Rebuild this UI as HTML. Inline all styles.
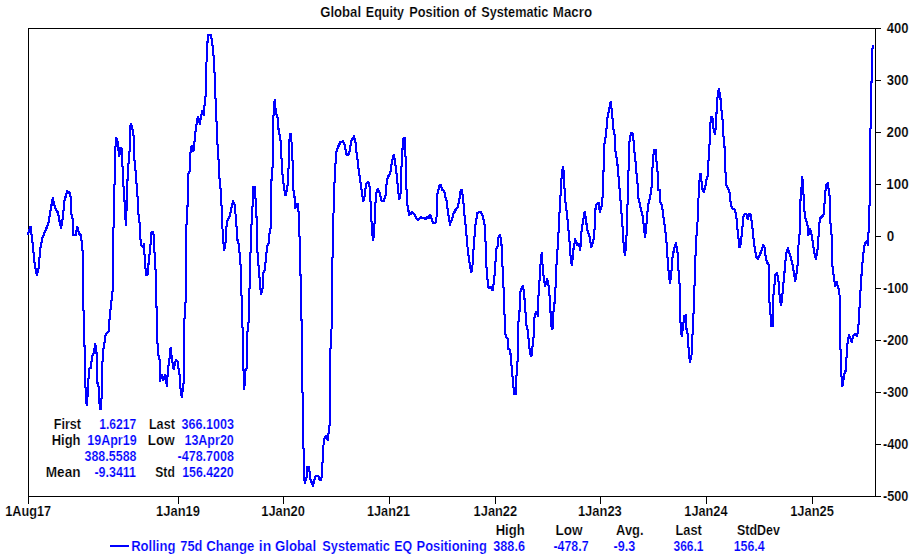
<!DOCTYPE html><html><head><meta charset="utf-8"><title>Chart</title><style>html,body{margin:0;padding:0;background:#fff;}svg{display:block}text{font-family:"Liberation Sans",sans-serif;font-weight:bold;}</style></head><body>
<svg width="913" height="555" viewBox="0 0 913 555">
<rect width="913" height="555" fill="#fff"/>
<g shape-rendering="crispEdges" stroke="#000" stroke-width="1" fill="none">
<rect x="28.5" y="28.5" width="847" height="468"/>
<line x1="876" y1="28.5" x2="881" y2="28.5"/>
<line x1="876" y1="80.5" x2="881" y2="80.5"/>
<line x1="876" y1="132.5" x2="881" y2="132.5"/>
<line x1="876" y1="184.5" x2="881" y2="184.5"/>
<line x1="876" y1="236.5" x2="881" y2="236.5"/>
<line x1="876" y1="288.5" x2="881" y2="288.5"/>
<line x1="876" y1="340.5" x2="881" y2="340.5"/>
<line x1="876" y1="392.5" x2="881" y2="392.5"/>
<line x1="876" y1="444.5" x2="881" y2="444.5"/>
<line x1="876" y1="496.5" x2="881" y2="496.5"/>
<line x1="28.5" y1="497" x2="28.5" y2="504"/>
<line x1="178.5" y1="497" x2="178.5" y2="504"/>
<line x1="283.5" y1="497" x2="283.5" y2="504"/>
<line x1="389.5" y1="497" x2="389.5" y2="504"/>
<line x1="495.5" y1="497" x2="495.5" y2="504"/>
<line x1="600.5" y1="497" x2="600.5" y2="504"/>
<line x1="706.5" y1="497" x2="706.5" y2="504"/>
<line x1="812.5" y1="497" x2="812.5" y2="504"/>
</g>
<polyline transform="translate(-0.5,-0.5)" points="28.0,234.4 30.5,226.4 32.5,242.7 34.5,262.8 36.8,275.3 38.8,267.8 40.0,250.0 42.5,237.7 45.0,231.4 48.3,224.0 50.6,210.0 52.8,198.0 55.0,207.6 58.0,213.0 59.6,221.4 61.0,228.0 62.6,219.0 64.6,200.0 67.2,191.3 69.4,192.6 70.9,197.6 71.6,217.0 72.6,219.0 73.4,235.0 75.6,234.7 77.4,227.0 79.0,234.0 81.0,235.0 82.0,246.5 83.0,255.0 83.2,295.0 83.5,310.0 84.7,352.6 85.7,395.0 86.7,405.3 87.7,395.0 89.0,369.0 90.7,367.7 92.2,356.4 94.2,351.4 95.0,344.0 96.4,349.0 97.4,382.7 99.0,387.7 99.7,409.0 101.0,409.0 102.0,387.7 102.7,352.6 104.5,342.6 105.7,333.8 108.5,332.0 109.7,317.6 111.2,302.5 112.2,295.0 112.7,290.0 113.2,242.7 114.2,196.0 115.2,160.0 115.3,150.0 116.0,137.8 117.2,139.0 118.2,148.0 119.2,156.6 120.3,148.0 121.5,149.0 122.3,161.6 123.3,183.8 124.8,205.0 125.8,225.7 126.8,205.0 127.8,170.0 128.5,164.0 129.6,150.0 130.3,127.0 131.0,123.5 132.8,131.0 134.2,140.0 134.4,160.0 135.0,163.0 135.8,175.0 137.3,192.6 138.3,212.6 139.8,225.0 140.8,245.0 142.8,246.5 143.8,245.0 144.8,257.7 146.0,275.3 147.8,274.0 148.8,260.0 150.3,247.7 151.3,232.7 152.8,232.0 153.8,235.0 154.8,260.0 156.0,275.3 156.4,299.0 156.6,312.5 157.8,352.6 159.6,360.0 159.8,381.5 161.6,375.0 163.4,380.0 165.4,374.7 166.9,386.5 167.9,370.0 169.4,360.0 170.6,347.6 171.9,359.0 173.6,369.0 175.9,360.0 177.6,361.4 179.0,372.0 180.2,378.0 180.4,388.0 181.7,397.0 182.4,392.0 183.2,385.0 184.0,380.0 184.2,322.6 185.4,307.5 185.6,299.0 185.9,231.4 187.4,215.0 187.9,175.0 189.9,171.0 190.4,152.8 191.7,145.3 193.4,151.6 194.4,142.8 195.4,132.8 196.7,122.7 197.9,116.5 199.9,124.0 200.9,116.5 202.2,111.5 203.7,115.2 204.5,105.2 205.5,97.7 206.0,75.0 207.0,50.0 208.0,34.5 210.5,34.5 212.0,40.0 213.0,50.0 214.2,62.6 215.0,87.7 216.0,107.7 217.2,140.3 218.7,162.0 219.7,182.6 221.0,192.6 222.0,217.6 223.0,240.0 224.3,250.0 225.5,242.7 226.8,221.4 229.3,217.6 231.0,210.0 233.0,201.4 234.8,205.0 236.0,220.0 237.5,240.0 239.0,245.0 240.0,260.0 241.0,267.8 241.5,295.0 242.0,320.0 243.0,335.0 243.5,370.0 244.3,389.0 245.5,370.0 246.8,367.7 247.5,331.3 248.8,320.0 249.1,299.0 250.0,275.3 250.8,240.0 252.2,210.0 253.2,200.0 253.2,187.0 254.8,187.0 255.0,198.0 256.0,199.0 256.2,216.0 256.8,218.0 257.0,245.0 258.3,262.8 259.5,277.8 261.0,294.5 262.6,287.8 263.3,272.8 264.6,270.3 265.8,260.3 267.0,246.5 268.8,242.7 269.6,232.7 270.8,227.7 271.3,182.6 272.6,166.0 273.0,132.8 273.8,105.2 274.8,99.4 275.8,112.7 277.6,117.7 278.3,127.8 279.6,135.3 280.9,142.8 281.6,161.0 282.2,172.0 283.2,181.0 284.2,189.0 285.5,195.6 287.2,189.0 288.2,178.0 288.4,170.0 289.0,162.0 289.4,140.3 290.6,133.5 291.6,142.8 292.1,156.6 292.8,164.0 293.1,187.6 294.6,197.6 295.1,207.6 297.6,203.9 298.4,208.9 299.1,222.7 300.2,260.3 300.9,292.0 301.9,337.6 302.6,400.3 303.3,440.5 304.2,472.0 304.6,483.2 306.0,479.2 306.9,475.6 307.5,466.6 308.7,467.0 309.6,472.0 310.5,479.2 311.8,482.8 312.9,485.0 314.1,482.0 315.0,477.4 316.5,475.6 318.3,476.0 319.3,479.2 320.4,480.7 321.5,478.3 322.0,466.6 322.9,459.4 323.7,440.5 324.9,437.8 326.2,436.0 327.6,440.0 328.2,434.2 329.4,432.0 330.0,400.0 330.2,355.0 331.5,330.0 332.2,295.0 332.4,262.8 333.2,226.4 334.0,192.6 335.2,170.0 336.0,152.8 337.7,147.8 340.3,142.3 342.8,141.5 344.8,145.3 346.3,154.0 348.3,155.3 349.8,150.3 351.0,141.5 354.0,136.5 355.8,144.0 356.8,155.3 357.8,161.6 359.0,172.5 361.6,190.0 363.3,201.4 364.8,195.0 366.0,183.8 368.3,181.8 369.8,187.6 370.8,207.6 372.1,232.7 373.3,240.2 374.8,220.0 375.8,195.0 377.8,188.8 379.6,192.6 381.6,200.9 383.4,201.4 385.4,196.3 386.9,180.0 388.4,176.3 390.4,172.5 391.6,163.8 392.4,160.3 393.6,154.8 394.9,160.3 396.4,172.5 397.9,187.6 399.1,198.8 400.4,197.6 401.2,170.0 402.2,158.0 402.4,150.3 403.4,139.0 404.9,137.8 405.4,155.3 405.9,162.0 406.7,197.6 407.4,205.0 409.2,214.6 410.5,214.2 412.4,212.3 414.2,214.0 416.7,218.9 418.4,220.0 419.5,218.5 420.8,216.8 422.0,218.3 424.0,218.5 426.0,218.6 427.0,217.0 428.5,218.8 429.5,216.0 430.5,215.2 431.2,217.5 432.0,219.5 433.0,222.7 435.5,222.7 436.5,217.6 437.0,195.5 439.2,186.3 440.5,185.0 442.5,190.0 444.3,191.3 445.5,197.6 446.8,201.4 448.0,212.6 450.0,223.9 451.8,220.0 453.5,213.9 455.5,210.0 457.5,207.6 459.3,200.0 460.6,191.3 461.6,189.8 463.0,197.6 464.5,215.0 466.3,232.7 468.0,252.7 470.0,265.3 471.3,272.8 472.5,265.3 473.8,245.0 475.5,225.0 477.5,213.0 480.6,211.4 483.0,216.4 484.6,225.0 485.6,242.7 486.3,265.3 487.6,280.3 488.6,288.3 490.6,286.6 492.6,290.3 493.8,282.8 495.0,270.3 496.3,249.0 497.6,246.5 498.6,236.4 500.0,235.2 501.4,242.7 502.6,267.8 503.4,285.0 504.1,298.8 504.6,317.6 505.6,336.4 507.6,338.9 508.4,349.0 510.1,349.7 511.1,360.2 512.1,372.7 513.1,382.8 514.1,394.0 515.9,394.0 516.6,372.7 517.6,360.2 518.4,322.6 519.6,310.0 520.2,292.5 521.7,287.5 523.2,286.3 524.2,295.0 525.2,307.6 526.4,325.0 527.7,330.0 528.9,342.7 530.2,354.0 531.4,356.4 532.7,345.2 533.9,333.9 534.4,317.6 535.9,312.6 537.7,315.0 538.2,300.0 539.2,287.0 540.2,267.8 541.7,252.2 542.7,267.8 544.0,280.3 545.2,286.0 547.2,279.0 548.5,285.0 549.5,295.0 550.7,315.0 551.7,328.9 552.7,327.6 553.7,307.6 554.7,302.0 555.7,284.0 556.7,260.3 558.2,240.2 559.2,217.6 560.3,200.0 561.3,180.0 562.8,166.8 564.0,172.5 564.8,197.6 566.5,210.0 568.3,227.7 569.8,245.2 570.8,260.3 572.0,265.3 573.3,250.2 575.3,239.7 577.3,245.2 579.0,244.0 580.3,250.2 581.3,232.7 582.8,222.7 584.8,211.4 586.0,220.0 587.3,230.0 589.3,235.2 591.3,246.5 592.8,242.7 594.3,235.2 595.3,210.0 596.6,203.9 598.6,203.0 599.8,212.0 601.1,207.6 602.4,203.0 602.9,180.0 603.9,165.3 604.6,140.2 606.1,135.2 607.1,120.0 608.9,110.0 610.6,101.9 612.1,112.6 613.1,127.7 614.6,135.2 615.6,152.7 617.1,160.3 618.4,175.3 619.4,187.6 620.9,205.0 622.4,225.0 623.7,245.2 624.9,255.2 626.2,245.2 626.9,222.7 627.7,199.0 628.2,187.8 628.7,160.3 629.7,137.7 631.4,133.2 633.2,134.0 633.9,147.7 635.2,157.7 636.4,172.8 637.7,185.3 638.4,197.6 640.5,207.6 642.5,215.0 643.7,225.0 645.0,237.7 646.0,230.0 647.0,217.6 648.0,205.0 650.0,197.6 651.5,187.8 652.2,172.8 653.2,157.7 654.0,150.2 656.2,149.7 656.7,167.8 657.7,172.8 658.5,190.0 659.7,190.3 660.5,202.6 662.0,205.0 663.5,217.6 665.0,227.7 666.5,242.7 668.0,265.3 669.3,277.8 670.0,283.8 671.3,272.8 672.5,257.7 674.3,247.7 676.0,244.0 677.5,252.7 678.5,270.3 679.8,287.0 680.3,310.0 680.6,328.0 681.8,336.4 683.0,326.4 684.3,316.3 685.8,315.0 686.5,329.0 688.0,335.2 688.8,354.0 690.0,362.2 691.5,355.2 692.5,335.2 693.5,313.9 694.5,286.0 695.0,267.8 696.3,237.7 697.5,222.7 698.3,202.6 699.0,187.6 700.0,174.0 701.0,174.5 702.0,187.6 703.6,192.0 705.2,188.0 706.4,180.0 707.4,177.8 708.4,162.8 709.4,147.7 710.1,127.7 710.9,117.1 712.4,117.1 713.4,127.7 714.9,134.7 715.9,126.4 717.1,100.0 718.9,88.3 720.4,97.6 721.7,112.6 722.9,122.7 723.7,140.2 724.9,150.2 725.4,170.3 726.2,185.3 728.3,188.3 729.8,194.0 730.9,205.0 732.6,208.9 734.6,209.6 736.1,213.9 737.1,225.2 738.4,237.7 739.6,247.7 740.9,242.7 742.2,230.2 743.2,217.6 744.7,213.9 746.4,213.9 747.7,218.9 749.2,213.9 750.7,214.6 752.2,225.2 753.4,237.7 754.7,247.7 756.2,256.5 757.7,259.0 759.7,255.2 761.5,250.2 763.2,245.2 764.7,247.7 765.7,257.7 767.2,262.8 768.5,264.0 769.0,280.0 769.2,300.0 770.2,307.6 771.0,325.6 772.7,325.6 773.2,297.6 774.4,286.0 775.4,274.5 777.1,272.8 778.4,280.2 779.4,294.0 780.8,305.0 782.0,301.3 783.0,287.0 784.2,276.0 785.3,262.0 786.5,252.7 787.8,248.5 789.3,252.7 790.8,257.7 792.3,262.8 793.8,272.8 795.3,281.0 796.5,274.0 797.8,262.8 798.8,237.7 799.8,232.7 800.3,202.6 801.3,190.0 802.3,177.0 803.3,190.0 804.3,210.0 805.8,220.0 807.3,222.7 808.3,235.2 809.8,229.0 811.3,232.7 812.8,242.7 814.3,252.7 815.8,258.5 817.3,252.7 818.6,235.2 819.8,218.9 821.6,217.1 823.6,214.6 824.6,202.6 825.9,185.0 827.9,183.0 828.9,192.6 829.9,197.6 830.4,222.7 831.6,235.2 832.4,265.3 833.9,278.0 835.4,286.0 837.0,283.0 837.9,288.0 839.3,289.5 839.9,305.0 840.4,345.2 840.9,365.2 841.7,380.3 842.4,386.5 843.7,377.8 844.9,371.5 846.2,370.3 846.7,350.2 847.9,340.2 849.2,335.7 850.9,338.9 851.9,342.7 852.9,336.4 854.9,333.9 856.9,335.7 857.9,331.4 858.9,320.0 859.9,300.0 860.9,285.0 861.7,272.0 862.5,262.8 863.7,250.2 865.0,242.7 866.7,241.5 868.0,244.0 868.5,232.7 869.5,206.4 870.2,185.0 870.3,129.0 871.4,125.0 871.5,82.6 872.2,50.0 873.2,46.0" fill="none" stroke="#0000ff" stroke-width="1" stroke-linejoin="miter" shape-rendering="crispEdges"/>
<polyline transform="translate(0.5,-0.5)" points="28.0,234.4 30.5,226.4 32.5,242.7 34.5,262.8 36.8,275.3 38.8,267.8 40.0,250.0 42.5,237.7 45.0,231.4 48.3,224.0 50.6,210.0 52.8,198.0 55.0,207.6 58.0,213.0 59.6,221.4 61.0,228.0 62.6,219.0 64.6,200.0 67.2,191.3 69.4,192.6 70.9,197.6 71.6,217.0 72.6,219.0 73.4,235.0 75.6,234.7 77.4,227.0 79.0,234.0 81.0,235.0 82.0,246.5 83.0,255.0 83.2,295.0 83.5,310.0 84.7,352.6 85.7,395.0 86.7,405.3 87.7,395.0 89.0,369.0 90.7,367.7 92.2,356.4 94.2,351.4 95.0,344.0 96.4,349.0 97.4,382.7 99.0,387.7 99.7,409.0 101.0,409.0 102.0,387.7 102.7,352.6 104.5,342.6 105.7,333.8 108.5,332.0 109.7,317.6 111.2,302.5 112.2,295.0 112.7,290.0 113.2,242.7 114.2,196.0 115.2,160.0 115.3,150.0 116.0,137.8 117.2,139.0 118.2,148.0 119.2,156.6 120.3,148.0 121.5,149.0 122.3,161.6 123.3,183.8 124.8,205.0 125.8,225.7 126.8,205.0 127.8,170.0 128.5,164.0 129.6,150.0 130.3,127.0 131.0,123.5 132.8,131.0 134.2,140.0 134.4,160.0 135.0,163.0 135.8,175.0 137.3,192.6 138.3,212.6 139.8,225.0 140.8,245.0 142.8,246.5 143.8,245.0 144.8,257.7 146.0,275.3 147.8,274.0 148.8,260.0 150.3,247.7 151.3,232.7 152.8,232.0 153.8,235.0 154.8,260.0 156.0,275.3 156.4,299.0 156.6,312.5 157.8,352.6 159.6,360.0 159.8,381.5 161.6,375.0 163.4,380.0 165.4,374.7 166.9,386.5 167.9,370.0 169.4,360.0 170.6,347.6 171.9,359.0 173.6,369.0 175.9,360.0 177.6,361.4 179.0,372.0 180.2,378.0 180.4,388.0 181.7,397.0 182.4,392.0 183.2,385.0 184.0,380.0 184.2,322.6 185.4,307.5 185.6,299.0 185.9,231.4 187.4,215.0 187.9,175.0 189.9,171.0 190.4,152.8 191.7,145.3 193.4,151.6 194.4,142.8 195.4,132.8 196.7,122.7 197.9,116.5 199.9,124.0 200.9,116.5 202.2,111.5 203.7,115.2 204.5,105.2 205.5,97.7 206.0,75.0 207.0,50.0 208.0,34.5 210.5,34.5 212.0,40.0 213.0,50.0 214.2,62.6 215.0,87.7 216.0,107.7 217.2,140.3 218.7,162.0 219.7,182.6 221.0,192.6 222.0,217.6 223.0,240.0 224.3,250.0 225.5,242.7 226.8,221.4 229.3,217.6 231.0,210.0 233.0,201.4 234.8,205.0 236.0,220.0 237.5,240.0 239.0,245.0 240.0,260.0 241.0,267.8 241.5,295.0 242.0,320.0 243.0,335.0 243.5,370.0 244.3,389.0 245.5,370.0 246.8,367.7 247.5,331.3 248.8,320.0 249.1,299.0 250.0,275.3 250.8,240.0 252.2,210.0 253.2,200.0 253.2,187.0 254.8,187.0 255.0,198.0 256.0,199.0 256.2,216.0 256.8,218.0 257.0,245.0 258.3,262.8 259.5,277.8 261.0,294.5 262.6,287.8 263.3,272.8 264.6,270.3 265.8,260.3 267.0,246.5 268.8,242.7 269.6,232.7 270.8,227.7 271.3,182.6 272.6,166.0 273.0,132.8 273.8,105.2 274.8,99.4 275.8,112.7 277.6,117.7 278.3,127.8 279.6,135.3 280.9,142.8 281.6,161.0 282.2,172.0 283.2,181.0 284.2,189.0 285.5,195.6 287.2,189.0 288.2,178.0 288.4,170.0 289.0,162.0 289.4,140.3 290.6,133.5 291.6,142.8 292.1,156.6 292.8,164.0 293.1,187.6 294.6,197.6 295.1,207.6 297.6,203.9 298.4,208.9 299.1,222.7 300.2,260.3 300.9,292.0 301.9,337.6 302.6,400.3 303.3,440.5 304.2,472.0 304.6,483.2 306.0,479.2 306.9,475.6 307.5,466.6 308.7,467.0 309.6,472.0 310.5,479.2 311.8,482.8 312.9,485.0 314.1,482.0 315.0,477.4 316.5,475.6 318.3,476.0 319.3,479.2 320.4,480.7 321.5,478.3 322.0,466.6 322.9,459.4 323.7,440.5 324.9,437.8 326.2,436.0 327.6,440.0 328.2,434.2 329.4,432.0 330.0,400.0 330.2,355.0 331.5,330.0 332.2,295.0 332.4,262.8 333.2,226.4 334.0,192.6 335.2,170.0 336.0,152.8 337.7,147.8 340.3,142.3 342.8,141.5 344.8,145.3 346.3,154.0 348.3,155.3 349.8,150.3 351.0,141.5 354.0,136.5 355.8,144.0 356.8,155.3 357.8,161.6 359.0,172.5 361.6,190.0 363.3,201.4 364.8,195.0 366.0,183.8 368.3,181.8 369.8,187.6 370.8,207.6 372.1,232.7 373.3,240.2 374.8,220.0 375.8,195.0 377.8,188.8 379.6,192.6 381.6,200.9 383.4,201.4 385.4,196.3 386.9,180.0 388.4,176.3 390.4,172.5 391.6,163.8 392.4,160.3 393.6,154.8 394.9,160.3 396.4,172.5 397.9,187.6 399.1,198.8 400.4,197.6 401.2,170.0 402.2,158.0 402.4,150.3 403.4,139.0 404.9,137.8 405.4,155.3 405.9,162.0 406.7,197.6 407.4,205.0 409.2,214.6 410.5,214.2 412.4,212.3 414.2,214.0 416.7,218.9 418.4,220.0 419.5,218.5 420.8,216.8 422.0,218.3 424.0,218.5 426.0,218.6 427.0,217.0 428.5,218.8 429.5,216.0 430.5,215.2 431.2,217.5 432.0,219.5 433.0,222.7 435.5,222.7 436.5,217.6 437.0,195.5 439.2,186.3 440.5,185.0 442.5,190.0 444.3,191.3 445.5,197.6 446.8,201.4 448.0,212.6 450.0,223.9 451.8,220.0 453.5,213.9 455.5,210.0 457.5,207.6 459.3,200.0 460.6,191.3 461.6,189.8 463.0,197.6 464.5,215.0 466.3,232.7 468.0,252.7 470.0,265.3 471.3,272.8 472.5,265.3 473.8,245.0 475.5,225.0 477.5,213.0 480.6,211.4 483.0,216.4 484.6,225.0 485.6,242.7 486.3,265.3 487.6,280.3 488.6,288.3 490.6,286.6 492.6,290.3 493.8,282.8 495.0,270.3 496.3,249.0 497.6,246.5 498.6,236.4 500.0,235.2 501.4,242.7 502.6,267.8 503.4,285.0 504.1,298.8 504.6,317.6 505.6,336.4 507.6,338.9 508.4,349.0 510.1,349.7 511.1,360.2 512.1,372.7 513.1,382.8 514.1,394.0 515.9,394.0 516.6,372.7 517.6,360.2 518.4,322.6 519.6,310.0 520.2,292.5 521.7,287.5 523.2,286.3 524.2,295.0 525.2,307.6 526.4,325.0 527.7,330.0 528.9,342.7 530.2,354.0 531.4,356.4 532.7,345.2 533.9,333.9 534.4,317.6 535.9,312.6 537.7,315.0 538.2,300.0 539.2,287.0 540.2,267.8 541.7,252.2 542.7,267.8 544.0,280.3 545.2,286.0 547.2,279.0 548.5,285.0 549.5,295.0 550.7,315.0 551.7,328.9 552.7,327.6 553.7,307.6 554.7,302.0 555.7,284.0 556.7,260.3 558.2,240.2 559.2,217.6 560.3,200.0 561.3,180.0 562.8,166.8 564.0,172.5 564.8,197.6 566.5,210.0 568.3,227.7 569.8,245.2 570.8,260.3 572.0,265.3 573.3,250.2 575.3,239.7 577.3,245.2 579.0,244.0 580.3,250.2 581.3,232.7 582.8,222.7 584.8,211.4 586.0,220.0 587.3,230.0 589.3,235.2 591.3,246.5 592.8,242.7 594.3,235.2 595.3,210.0 596.6,203.9 598.6,203.0 599.8,212.0 601.1,207.6 602.4,203.0 602.9,180.0 603.9,165.3 604.6,140.2 606.1,135.2 607.1,120.0 608.9,110.0 610.6,101.9 612.1,112.6 613.1,127.7 614.6,135.2 615.6,152.7 617.1,160.3 618.4,175.3 619.4,187.6 620.9,205.0 622.4,225.0 623.7,245.2 624.9,255.2 626.2,245.2 626.9,222.7 627.7,199.0 628.2,187.8 628.7,160.3 629.7,137.7 631.4,133.2 633.2,134.0 633.9,147.7 635.2,157.7 636.4,172.8 637.7,185.3 638.4,197.6 640.5,207.6 642.5,215.0 643.7,225.0 645.0,237.7 646.0,230.0 647.0,217.6 648.0,205.0 650.0,197.6 651.5,187.8 652.2,172.8 653.2,157.7 654.0,150.2 656.2,149.7 656.7,167.8 657.7,172.8 658.5,190.0 659.7,190.3 660.5,202.6 662.0,205.0 663.5,217.6 665.0,227.7 666.5,242.7 668.0,265.3 669.3,277.8 670.0,283.8 671.3,272.8 672.5,257.7 674.3,247.7 676.0,244.0 677.5,252.7 678.5,270.3 679.8,287.0 680.3,310.0 680.6,328.0 681.8,336.4 683.0,326.4 684.3,316.3 685.8,315.0 686.5,329.0 688.0,335.2 688.8,354.0 690.0,362.2 691.5,355.2 692.5,335.2 693.5,313.9 694.5,286.0 695.0,267.8 696.3,237.7 697.5,222.7 698.3,202.6 699.0,187.6 700.0,174.0 701.0,174.5 702.0,187.6 703.6,192.0 705.2,188.0 706.4,180.0 707.4,177.8 708.4,162.8 709.4,147.7 710.1,127.7 710.9,117.1 712.4,117.1 713.4,127.7 714.9,134.7 715.9,126.4 717.1,100.0 718.9,88.3 720.4,97.6 721.7,112.6 722.9,122.7 723.7,140.2 724.9,150.2 725.4,170.3 726.2,185.3 728.3,188.3 729.8,194.0 730.9,205.0 732.6,208.9 734.6,209.6 736.1,213.9 737.1,225.2 738.4,237.7 739.6,247.7 740.9,242.7 742.2,230.2 743.2,217.6 744.7,213.9 746.4,213.9 747.7,218.9 749.2,213.9 750.7,214.6 752.2,225.2 753.4,237.7 754.7,247.7 756.2,256.5 757.7,259.0 759.7,255.2 761.5,250.2 763.2,245.2 764.7,247.7 765.7,257.7 767.2,262.8 768.5,264.0 769.0,280.0 769.2,300.0 770.2,307.6 771.0,325.6 772.7,325.6 773.2,297.6 774.4,286.0 775.4,274.5 777.1,272.8 778.4,280.2 779.4,294.0 780.8,305.0 782.0,301.3 783.0,287.0 784.2,276.0 785.3,262.0 786.5,252.7 787.8,248.5 789.3,252.7 790.8,257.7 792.3,262.8 793.8,272.8 795.3,281.0 796.5,274.0 797.8,262.8 798.8,237.7 799.8,232.7 800.3,202.6 801.3,190.0 802.3,177.0 803.3,190.0 804.3,210.0 805.8,220.0 807.3,222.7 808.3,235.2 809.8,229.0 811.3,232.7 812.8,242.7 814.3,252.7 815.8,258.5 817.3,252.7 818.6,235.2 819.8,218.9 821.6,217.1 823.6,214.6 824.6,202.6 825.9,185.0 827.9,183.0 828.9,192.6 829.9,197.6 830.4,222.7 831.6,235.2 832.4,265.3 833.9,278.0 835.4,286.0 837.0,283.0 837.9,288.0 839.3,289.5 839.9,305.0 840.4,345.2 840.9,365.2 841.7,380.3 842.4,386.5 843.7,377.8 844.9,371.5 846.2,370.3 846.7,350.2 847.9,340.2 849.2,335.7 850.9,338.9 851.9,342.7 852.9,336.4 854.9,333.9 856.9,335.7 857.9,331.4 858.9,320.0 859.9,300.0 860.9,285.0 861.7,272.0 862.5,262.8 863.7,250.2 865.0,242.7 866.7,241.5 868.0,244.0 868.5,232.7 869.5,206.4 870.2,185.0 870.3,129.0 871.4,125.0 871.5,82.6 872.2,50.0 873.2,46.0" fill="none" stroke="#0000ff" stroke-width="1" stroke-linejoin="miter" shape-rendering="crispEdges"/>
<polyline transform="translate(-0.5,0.5)" points="28.0,234.4 30.5,226.4 32.5,242.7 34.5,262.8 36.8,275.3 38.8,267.8 40.0,250.0 42.5,237.7 45.0,231.4 48.3,224.0 50.6,210.0 52.8,198.0 55.0,207.6 58.0,213.0 59.6,221.4 61.0,228.0 62.6,219.0 64.6,200.0 67.2,191.3 69.4,192.6 70.9,197.6 71.6,217.0 72.6,219.0 73.4,235.0 75.6,234.7 77.4,227.0 79.0,234.0 81.0,235.0 82.0,246.5 83.0,255.0 83.2,295.0 83.5,310.0 84.7,352.6 85.7,395.0 86.7,405.3 87.7,395.0 89.0,369.0 90.7,367.7 92.2,356.4 94.2,351.4 95.0,344.0 96.4,349.0 97.4,382.7 99.0,387.7 99.7,409.0 101.0,409.0 102.0,387.7 102.7,352.6 104.5,342.6 105.7,333.8 108.5,332.0 109.7,317.6 111.2,302.5 112.2,295.0 112.7,290.0 113.2,242.7 114.2,196.0 115.2,160.0 115.3,150.0 116.0,137.8 117.2,139.0 118.2,148.0 119.2,156.6 120.3,148.0 121.5,149.0 122.3,161.6 123.3,183.8 124.8,205.0 125.8,225.7 126.8,205.0 127.8,170.0 128.5,164.0 129.6,150.0 130.3,127.0 131.0,123.5 132.8,131.0 134.2,140.0 134.4,160.0 135.0,163.0 135.8,175.0 137.3,192.6 138.3,212.6 139.8,225.0 140.8,245.0 142.8,246.5 143.8,245.0 144.8,257.7 146.0,275.3 147.8,274.0 148.8,260.0 150.3,247.7 151.3,232.7 152.8,232.0 153.8,235.0 154.8,260.0 156.0,275.3 156.4,299.0 156.6,312.5 157.8,352.6 159.6,360.0 159.8,381.5 161.6,375.0 163.4,380.0 165.4,374.7 166.9,386.5 167.9,370.0 169.4,360.0 170.6,347.6 171.9,359.0 173.6,369.0 175.9,360.0 177.6,361.4 179.0,372.0 180.2,378.0 180.4,388.0 181.7,397.0 182.4,392.0 183.2,385.0 184.0,380.0 184.2,322.6 185.4,307.5 185.6,299.0 185.9,231.4 187.4,215.0 187.9,175.0 189.9,171.0 190.4,152.8 191.7,145.3 193.4,151.6 194.4,142.8 195.4,132.8 196.7,122.7 197.9,116.5 199.9,124.0 200.9,116.5 202.2,111.5 203.7,115.2 204.5,105.2 205.5,97.7 206.0,75.0 207.0,50.0 208.0,34.5 210.5,34.5 212.0,40.0 213.0,50.0 214.2,62.6 215.0,87.7 216.0,107.7 217.2,140.3 218.7,162.0 219.7,182.6 221.0,192.6 222.0,217.6 223.0,240.0 224.3,250.0 225.5,242.7 226.8,221.4 229.3,217.6 231.0,210.0 233.0,201.4 234.8,205.0 236.0,220.0 237.5,240.0 239.0,245.0 240.0,260.0 241.0,267.8 241.5,295.0 242.0,320.0 243.0,335.0 243.5,370.0 244.3,389.0 245.5,370.0 246.8,367.7 247.5,331.3 248.8,320.0 249.1,299.0 250.0,275.3 250.8,240.0 252.2,210.0 253.2,200.0 253.2,187.0 254.8,187.0 255.0,198.0 256.0,199.0 256.2,216.0 256.8,218.0 257.0,245.0 258.3,262.8 259.5,277.8 261.0,294.5 262.6,287.8 263.3,272.8 264.6,270.3 265.8,260.3 267.0,246.5 268.8,242.7 269.6,232.7 270.8,227.7 271.3,182.6 272.6,166.0 273.0,132.8 273.8,105.2 274.8,99.4 275.8,112.7 277.6,117.7 278.3,127.8 279.6,135.3 280.9,142.8 281.6,161.0 282.2,172.0 283.2,181.0 284.2,189.0 285.5,195.6 287.2,189.0 288.2,178.0 288.4,170.0 289.0,162.0 289.4,140.3 290.6,133.5 291.6,142.8 292.1,156.6 292.8,164.0 293.1,187.6 294.6,197.6 295.1,207.6 297.6,203.9 298.4,208.9 299.1,222.7 300.2,260.3 300.9,292.0 301.9,337.6 302.6,400.3 303.3,440.5 304.2,472.0 304.6,483.2 306.0,479.2 306.9,475.6 307.5,466.6 308.7,467.0 309.6,472.0 310.5,479.2 311.8,482.8 312.9,485.0 314.1,482.0 315.0,477.4 316.5,475.6 318.3,476.0 319.3,479.2 320.4,480.7 321.5,478.3 322.0,466.6 322.9,459.4 323.7,440.5 324.9,437.8 326.2,436.0 327.6,440.0 328.2,434.2 329.4,432.0 330.0,400.0 330.2,355.0 331.5,330.0 332.2,295.0 332.4,262.8 333.2,226.4 334.0,192.6 335.2,170.0 336.0,152.8 337.7,147.8 340.3,142.3 342.8,141.5 344.8,145.3 346.3,154.0 348.3,155.3 349.8,150.3 351.0,141.5 354.0,136.5 355.8,144.0 356.8,155.3 357.8,161.6 359.0,172.5 361.6,190.0 363.3,201.4 364.8,195.0 366.0,183.8 368.3,181.8 369.8,187.6 370.8,207.6 372.1,232.7 373.3,240.2 374.8,220.0 375.8,195.0 377.8,188.8 379.6,192.6 381.6,200.9 383.4,201.4 385.4,196.3 386.9,180.0 388.4,176.3 390.4,172.5 391.6,163.8 392.4,160.3 393.6,154.8 394.9,160.3 396.4,172.5 397.9,187.6 399.1,198.8 400.4,197.6 401.2,170.0 402.2,158.0 402.4,150.3 403.4,139.0 404.9,137.8 405.4,155.3 405.9,162.0 406.7,197.6 407.4,205.0 409.2,214.6 410.5,214.2 412.4,212.3 414.2,214.0 416.7,218.9 418.4,220.0 419.5,218.5 420.8,216.8 422.0,218.3 424.0,218.5 426.0,218.6 427.0,217.0 428.5,218.8 429.5,216.0 430.5,215.2 431.2,217.5 432.0,219.5 433.0,222.7 435.5,222.7 436.5,217.6 437.0,195.5 439.2,186.3 440.5,185.0 442.5,190.0 444.3,191.3 445.5,197.6 446.8,201.4 448.0,212.6 450.0,223.9 451.8,220.0 453.5,213.9 455.5,210.0 457.5,207.6 459.3,200.0 460.6,191.3 461.6,189.8 463.0,197.6 464.5,215.0 466.3,232.7 468.0,252.7 470.0,265.3 471.3,272.8 472.5,265.3 473.8,245.0 475.5,225.0 477.5,213.0 480.6,211.4 483.0,216.4 484.6,225.0 485.6,242.7 486.3,265.3 487.6,280.3 488.6,288.3 490.6,286.6 492.6,290.3 493.8,282.8 495.0,270.3 496.3,249.0 497.6,246.5 498.6,236.4 500.0,235.2 501.4,242.7 502.6,267.8 503.4,285.0 504.1,298.8 504.6,317.6 505.6,336.4 507.6,338.9 508.4,349.0 510.1,349.7 511.1,360.2 512.1,372.7 513.1,382.8 514.1,394.0 515.9,394.0 516.6,372.7 517.6,360.2 518.4,322.6 519.6,310.0 520.2,292.5 521.7,287.5 523.2,286.3 524.2,295.0 525.2,307.6 526.4,325.0 527.7,330.0 528.9,342.7 530.2,354.0 531.4,356.4 532.7,345.2 533.9,333.9 534.4,317.6 535.9,312.6 537.7,315.0 538.2,300.0 539.2,287.0 540.2,267.8 541.7,252.2 542.7,267.8 544.0,280.3 545.2,286.0 547.2,279.0 548.5,285.0 549.5,295.0 550.7,315.0 551.7,328.9 552.7,327.6 553.7,307.6 554.7,302.0 555.7,284.0 556.7,260.3 558.2,240.2 559.2,217.6 560.3,200.0 561.3,180.0 562.8,166.8 564.0,172.5 564.8,197.6 566.5,210.0 568.3,227.7 569.8,245.2 570.8,260.3 572.0,265.3 573.3,250.2 575.3,239.7 577.3,245.2 579.0,244.0 580.3,250.2 581.3,232.7 582.8,222.7 584.8,211.4 586.0,220.0 587.3,230.0 589.3,235.2 591.3,246.5 592.8,242.7 594.3,235.2 595.3,210.0 596.6,203.9 598.6,203.0 599.8,212.0 601.1,207.6 602.4,203.0 602.9,180.0 603.9,165.3 604.6,140.2 606.1,135.2 607.1,120.0 608.9,110.0 610.6,101.9 612.1,112.6 613.1,127.7 614.6,135.2 615.6,152.7 617.1,160.3 618.4,175.3 619.4,187.6 620.9,205.0 622.4,225.0 623.7,245.2 624.9,255.2 626.2,245.2 626.9,222.7 627.7,199.0 628.2,187.8 628.7,160.3 629.7,137.7 631.4,133.2 633.2,134.0 633.9,147.7 635.2,157.7 636.4,172.8 637.7,185.3 638.4,197.6 640.5,207.6 642.5,215.0 643.7,225.0 645.0,237.7 646.0,230.0 647.0,217.6 648.0,205.0 650.0,197.6 651.5,187.8 652.2,172.8 653.2,157.7 654.0,150.2 656.2,149.7 656.7,167.8 657.7,172.8 658.5,190.0 659.7,190.3 660.5,202.6 662.0,205.0 663.5,217.6 665.0,227.7 666.5,242.7 668.0,265.3 669.3,277.8 670.0,283.8 671.3,272.8 672.5,257.7 674.3,247.7 676.0,244.0 677.5,252.7 678.5,270.3 679.8,287.0 680.3,310.0 680.6,328.0 681.8,336.4 683.0,326.4 684.3,316.3 685.8,315.0 686.5,329.0 688.0,335.2 688.8,354.0 690.0,362.2 691.5,355.2 692.5,335.2 693.5,313.9 694.5,286.0 695.0,267.8 696.3,237.7 697.5,222.7 698.3,202.6 699.0,187.6 700.0,174.0 701.0,174.5 702.0,187.6 703.6,192.0 705.2,188.0 706.4,180.0 707.4,177.8 708.4,162.8 709.4,147.7 710.1,127.7 710.9,117.1 712.4,117.1 713.4,127.7 714.9,134.7 715.9,126.4 717.1,100.0 718.9,88.3 720.4,97.6 721.7,112.6 722.9,122.7 723.7,140.2 724.9,150.2 725.4,170.3 726.2,185.3 728.3,188.3 729.8,194.0 730.9,205.0 732.6,208.9 734.6,209.6 736.1,213.9 737.1,225.2 738.4,237.7 739.6,247.7 740.9,242.7 742.2,230.2 743.2,217.6 744.7,213.9 746.4,213.9 747.7,218.9 749.2,213.9 750.7,214.6 752.2,225.2 753.4,237.7 754.7,247.7 756.2,256.5 757.7,259.0 759.7,255.2 761.5,250.2 763.2,245.2 764.7,247.7 765.7,257.7 767.2,262.8 768.5,264.0 769.0,280.0 769.2,300.0 770.2,307.6 771.0,325.6 772.7,325.6 773.2,297.6 774.4,286.0 775.4,274.5 777.1,272.8 778.4,280.2 779.4,294.0 780.8,305.0 782.0,301.3 783.0,287.0 784.2,276.0 785.3,262.0 786.5,252.7 787.8,248.5 789.3,252.7 790.8,257.7 792.3,262.8 793.8,272.8 795.3,281.0 796.5,274.0 797.8,262.8 798.8,237.7 799.8,232.7 800.3,202.6 801.3,190.0 802.3,177.0 803.3,190.0 804.3,210.0 805.8,220.0 807.3,222.7 808.3,235.2 809.8,229.0 811.3,232.7 812.8,242.7 814.3,252.7 815.8,258.5 817.3,252.7 818.6,235.2 819.8,218.9 821.6,217.1 823.6,214.6 824.6,202.6 825.9,185.0 827.9,183.0 828.9,192.6 829.9,197.6 830.4,222.7 831.6,235.2 832.4,265.3 833.9,278.0 835.4,286.0 837.0,283.0 837.9,288.0 839.3,289.5 839.9,305.0 840.4,345.2 840.9,365.2 841.7,380.3 842.4,386.5 843.7,377.8 844.9,371.5 846.2,370.3 846.7,350.2 847.9,340.2 849.2,335.7 850.9,338.9 851.9,342.7 852.9,336.4 854.9,333.9 856.9,335.7 857.9,331.4 858.9,320.0 859.9,300.0 860.9,285.0 861.7,272.0 862.5,262.8 863.7,250.2 865.0,242.7 866.7,241.5 868.0,244.0 868.5,232.7 869.5,206.4 870.2,185.0 870.3,129.0 871.4,125.0 871.5,82.6 872.2,50.0 873.2,46.0" fill="none" stroke="#0000ff" stroke-width="1" stroke-linejoin="miter" shape-rendering="crispEdges"/>
<polyline transform="translate(0.5,0.5)" points="28.0,234.4 30.5,226.4 32.5,242.7 34.5,262.8 36.8,275.3 38.8,267.8 40.0,250.0 42.5,237.7 45.0,231.4 48.3,224.0 50.6,210.0 52.8,198.0 55.0,207.6 58.0,213.0 59.6,221.4 61.0,228.0 62.6,219.0 64.6,200.0 67.2,191.3 69.4,192.6 70.9,197.6 71.6,217.0 72.6,219.0 73.4,235.0 75.6,234.7 77.4,227.0 79.0,234.0 81.0,235.0 82.0,246.5 83.0,255.0 83.2,295.0 83.5,310.0 84.7,352.6 85.7,395.0 86.7,405.3 87.7,395.0 89.0,369.0 90.7,367.7 92.2,356.4 94.2,351.4 95.0,344.0 96.4,349.0 97.4,382.7 99.0,387.7 99.7,409.0 101.0,409.0 102.0,387.7 102.7,352.6 104.5,342.6 105.7,333.8 108.5,332.0 109.7,317.6 111.2,302.5 112.2,295.0 112.7,290.0 113.2,242.7 114.2,196.0 115.2,160.0 115.3,150.0 116.0,137.8 117.2,139.0 118.2,148.0 119.2,156.6 120.3,148.0 121.5,149.0 122.3,161.6 123.3,183.8 124.8,205.0 125.8,225.7 126.8,205.0 127.8,170.0 128.5,164.0 129.6,150.0 130.3,127.0 131.0,123.5 132.8,131.0 134.2,140.0 134.4,160.0 135.0,163.0 135.8,175.0 137.3,192.6 138.3,212.6 139.8,225.0 140.8,245.0 142.8,246.5 143.8,245.0 144.8,257.7 146.0,275.3 147.8,274.0 148.8,260.0 150.3,247.7 151.3,232.7 152.8,232.0 153.8,235.0 154.8,260.0 156.0,275.3 156.4,299.0 156.6,312.5 157.8,352.6 159.6,360.0 159.8,381.5 161.6,375.0 163.4,380.0 165.4,374.7 166.9,386.5 167.9,370.0 169.4,360.0 170.6,347.6 171.9,359.0 173.6,369.0 175.9,360.0 177.6,361.4 179.0,372.0 180.2,378.0 180.4,388.0 181.7,397.0 182.4,392.0 183.2,385.0 184.0,380.0 184.2,322.6 185.4,307.5 185.6,299.0 185.9,231.4 187.4,215.0 187.9,175.0 189.9,171.0 190.4,152.8 191.7,145.3 193.4,151.6 194.4,142.8 195.4,132.8 196.7,122.7 197.9,116.5 199.9,124.0 200.9,116.5 202.2,111.5 203.7,115.2 204.5,105.2 205.5,97.7 206.0,75.0 207.0,50.0 208.0,34.5 210.5,34.5 212.0,40.0 213.0,50.0 214.2,62.6 215.0,87.7 216.0,107.7 217.2,140.3 218.7,162.0 219.7,182.6 221.0,192.6 222.0,217.6 223.0,240.0 224.3,250.0 225.5,242.7 226.8,221.4 229.3,217.6 231.0,210.0 233.0,201.4 234.8,205.0 236.0,220.0 237.5,240.0 239.0,245.0 240.0,260.0 241.0,267.8 241.5,295.0 242.0,320.0 243.0,335.0 243.5,370.0 244.3,389.0 245.5,370.0 246.8,367.7 247.5,331.3 248.8,320.0 249.1,299.0 250.0,275.3 250.8,240.0 252.2,210.0 253.2,200.0 253.2,187.0 254.8,187.0 255.0,198.0 256.0,199.0 256.2,216.0 256.8,218.0 257.0,245.0 258.3,262.8 259.5,277.8 261.0,294.5 262.6,287.8 263.3,272.8 264.6,270.3 265.8,260.3 267.0,246.5 268.8,242.7 269.6,232.7 270.8,227.7 271.3,182.6 272.6,166.0 273.0,132.8 273.8,105.2 274.8,99.4 275.8,112.7 277.6,117.7 278.3,127.8 279.6,135.3 280.9,142.8 281.6,161.0 282.2,172.0 283.2,181.0 284.2,189.0 285.5,195.6 287.2,189.0 288.2,178.0 288.4,170.0 289.0,162.0 289.4,140.3 290.6,133.5 291.6,142.8 292.1,156.6 292.8,164.0 293.1,187.6 294.6,197.6 295.1,207.6 297.6,203.9 298.4,208.9 299.1,222.7 300.2,260.3 300.9,292.0 301.9,337.6 302.6,400.3 303.3,440.5 304.2,472.0 304.6,483.2 306.0,479.2 306.9,475.6 307.5,466.6 308.7,467.0 309.6,472.0 310.5,479.2 311.8,482.8 312.9,485.0 314.1,482.0 315.0,477.4 316.5,475.6 318.3,476.0 319.3,479.2 320.4,480.7 321.5,478.3 322.0,466.6 322.9,459.4 323.7,440.5 324.9,437.8 326.2,436.0 327.6,440.0 328.2,434.2 329.4,432.0 330.0,400.0 330.2,355.0 331.5,330.0 332.2,295.0 332.4,262.8 333.2,226.4 334.0,192.6 335.2,170.0 336.0,152.8 337.7,147.8 340.3,142.3 342.8,141.5 344.8,145.3 346.3,154.0 348.3,155.3 349.8,150.3 351.0,141.5 354.0,136.5 355.8,144.0 356.8,155.3 357.8,161.6 359.0,172.5 361.6,190.0 363.3,201.4 364.8,195.0 366.0,183.8 368.3,181.8 369.8,187.6 370.8,207.6 372.1,232.7 373.3,240.2 374.8,220.0 375.8,195.0 377.8,188.8 379.6,192.6 381.6,200.9 383.4,201.4 385.4,196.3 386.9,180.0 388.4,176.3 390.4,172.5 391.6,163.8 392.4,160.3 393.6,154.8 394.9,160.3 396.4,172.5 397.9,187.6 399.1,198.8 400.4,197.6 401.2,170.0 402.2,158.0 402.4,150.3 403.4,139.0 404.9,137.8 405.4,155.3 405.9,162.0 406.7,197.6 407.4,205.0 409.2,214.6 410.5,214.2 412.4,212.3 414.2,214.0 416.7,218.9 418.4,220.0 419.5,218.5 420.8,216.8 422.0,218.3 424.0,218.5 426.0,218.6 427.0,217.0 428.5,218.8 429.5,216.0 430.5,215.2 431.2,217.5 432.0,219.5 433.0,222.7 435.5,222.7 436.5,217.6 437.0,195.5 439.2,186.3 440.5,185.0 442.5,190.0 444.3,191.3 445.5,197.6 446.8,201.4 448.0,212.6 450.0,223.9 451.8,220.0 453.5,213.9 455.5,210.0 457.5,207.6 459.3,200.0 460.6,191.3 461.6,189.8 463.0,197.6 464.5,215.0 466.3,232.7 468.0,252.7 470.0,265.3 471.3,272.8 472.5,265.3 473.8,245.0 475.5,225.0 477.5,213.0 480.6,211.4 483.0,216.4 484.6,225.0 485.6,242.7 486.3,265.3 487.6,280.3 488.6,288.3 490.6,286.6 492.6,290.3 493.8,282.8 495.0,270.3 496.3,249.0 497.6,246.5 498.6,236.4 500.0,235.2 501.4,242.7 502.6,267.8 503.4,285.0 504.1,298.8 504.6,317.6 505.6,336.4 507.6,338.9 508.4,349.0 510.1,349.7 511.1,360.2 512.1,372.7 513.1,382.8 514.1,394.0 515.9,394.0 516.6,372.7 517.6,360.2 518.4,322.6 519.6,310.0 520.2,292.5 521.7,287.5 523.2,286.3 524.2,295.0 525.2,307.6 526.4,325.0 527.7,330.0 528.9,342.7 530.2,354.0 531.4,356.4 532.7,345.2 533.9,333.9 534.4,317.6 535.9,312.6 537.7,315.0 538.2,300.0 539.2,287.0 540.2,267.8 541.7,252.2 542.7,267.8 544.0,280.3 545.2,286.0 547.2,279.0 548.5,285.0 549.5,295.0 550.7,315.0 551.7,328.9 552.7,327.6 553.7,307.6 554.7,302.0 555.7,284.0 556.7,260.3 558.2,240.2 559.2,217.6 560.3,200.0 561.3,180.0 562.8,166.8 564.0,172.5 564.8,197.6 566.5,210.0 568.3,227.7 569.8,245.2 570.8,260.3 572.0,265.3 573.3,250.2 575.3,239.7 577.3,245.2 579.0,244.0 580.3,250.2 581.3,232.7 582.8,222.7 584.8,211.4 586.0,220.0 587.3,230.0 589.3,235.2 591.3,246.5 592.8,242.7 594.3,235.2 595.3,210.0 596.6,203.9 598.6,203.0 599.8,212.0 601.1,207.6 602.4,203.0 602.9,180.0 603.9,165.3 604.6,140.2 606.1,135.2 607.1,120.0 608.9,110.0 610.6,101.9 612.1,112.6 613.1,127.7 614.6,135.2 615.6,152.7 617.1,160.3 618.4,175.3 619.4,187.6 620.9,205.0 622.4,225.0 623.7,245.2 624.9,255.2 626.2,245.2 626.9,222.7 627.7,199.0 628.2,187.8 628.7,160.3 629.7,137.7 631.4,133.2 633.2,134.0 633.9,147.7 635.2,157.7 636.4,172.8 637.7,185.3 638.4,197.6 640.5,207.6 642.5,215.0 643.7,225.0 645.0,237.7 646.0,230.0 647.0,217.6 648.0,205.0 650.0,197.6 651.5,187.8 652.2,172.8 653.2,157.7 654.0,150.2 656.2,149.7 656.7,167.8 657.7,172.8 658.5,190.0 659.7,190.3 660.5,202.6 662.0,205.0 663.5,217.6 665.0,227.7 666.5,242.7 668.0,265.3 669.3,277.8 670.0,283.8 671.3,272.8 672.5,257.7 674.3,247.7 676.0,244.0 677.5,252.7 678.5,270.3 679.8,287.0 680.3,310.0 680.6,328.0 681.8,336.4 683.0,326.4 684.3,316.3 685.8,315.0 686.5,329.0 688.0,335.2 688.8,354.0 690.0,362.2 691.5,355.2 692.5,335.2 693.5,313.9 694.5,286.0 695.0,267.8 696.3,237.7 697.5,222.7 698.3,202.6 699.0,187.6 700.0,174.0 701.0,174.5 702.0,187.6 703.6,192.0 705.2,188.0 706.4,180.0 707.4,177.8 708.4,162.8 709.4,147.7 710.1,127.7 710.9,117.1 712.4,117.1 713.4,127.7 714.9,134.7 715.9,126.4 717.1,100.0 718.9,88.3 720.4,97.6 721.7,112.6 722.9,122.7 723.7,140.2 724.9,150.2 725.4,170.3 726.2,185.3 728.3,188.3 729.8,194.0 730.9,205.0 732.6,208.9 734.6,209.6 736.1,213.9 737.1,225.2 738.4,237.7 739.6,247.7 740.9,242.7 742.2,230.2 743.2,217.6 744.7,213.9 746.4,213.9 747.7,218.9 749.2,213.9 750.7,214.6 752.2,225.2 753.4,237.7 754.7,247.7 756.2,256.5 757.7,259.0 759.7,255.2 761.5,250.2 763.2,245.2 764.7,247.7 765.7,257.7 767.2,262.8 768.5,264.0 769.0,280.0 769.2,300.0 770.2,307.6 771.0,325.6 772.7,325.6 773.2,297.6 774.4,286.0 775.4,274.5 777.1,272.8 778.4,280.2 779.4,294.0 780.8,305.0 782.0,301.3 783.0,287.0 784.2,276.0 785.3,262.0 786.5,252.7 787.8,248.5 789.3,252.7 790.8,257.7 792.3,262.8 793.8,272.8 795.3,281.0 796.5,274.0 797.8,262.8 798.8,237.7 799.8,232.7 800.3,202.6 801.3,190.0 802.3,177.0 803.3,190.0 804.3,210.0 805.8,220.0 807.3,222.7 808.3,235.2 809.8,229.0 811.3,232.7 812.8,242.7 814.3,252.7 815.8,258.5 817.3,252.7 818.6,235.2 819.8,218.9 821.6,217.1 823.6,214.6 824.6,202.6 825.9,185.0 827.9,183.0 828.9,192.6 829.9,197.6 830.4,222.7 831.6,235.2 832.4,265.3 833.9,278.0 835.4,286.0 837.0,283.0 837.9,288.0 839.3,289.5 839.9,305.0 840.4,345.2 840.9,365.2 841.7,380.3 842.4,386.5 843.7,377.8 844.9,371.5 846.2,370.3 846.7,350.2 847.9,340.2 849.2,335.7 850.9,338.9 851.9,342.7 852.9,336.4 854.9,333.9 856.9,335.7 857.9,331.4 858.9,320.0 859.9,300.0 860.9,285.0 861.7,272.0 862.5,262.8 863.7,250.2 865.0,242.7 866.7,241.5 868.0,244.0 868.5,232.7 869.5,206.4 870.2,185.0 870.3,129.0 871.4,125.0 871.5,82.6 872.2,50.0 873.2,46.0" fill="none" stroke="#0000ff" stroke-width="1" stroke-linejoin="miter" shape-rendering="crispEdges"/>
<text transform="translate(320.23,16.90) scale(0.9381,1)" font-size="14.0" fill="#000" stroke="#fff" stroke-width="0.18">Global</text>
<text transform="translate(365.81,16.90) scale(0.8934,1)" font-size="14.0" fill="#000" stroke="#fff" stroke-width="0.18">Equity</text>
<text transform="translate(409.29,16.90) scale(0.9103,1)" font-size="14.0" fill="#000" stroke="#fff" stroke-width="0.18">Position</text>
<text transform="translate(463.94,16.90) scale(0.9176,1)" font-size="14.0" fill="#000" stroke="#fff" stroke-width="0.18">of</text>
<text transform="translate(481.25,16.90) scale(0.9082,1)" font-size="14.0" fill="#000" stroke="#fff" stroke-width="0.18">Systematic</text>
<text transform="translate(552.85,16.90) scale(0.9509,1)" font-size="14.0" fill="#000" stroke="#fff" stroke-width="0.18">Macro</text>
<text transform="translate(5.22,515.90) scale(0.9076,1)" font-size="14.0" fill="#000" stroke="#fff" stroke-width="0.18">1Aug17</text>
<text transform="translate(156.11,515.90) scale(0.9254,1)" font-size="14.0" fill="#000" stroke="#fff" stroke-width="0.18">1Jan19</text>
<text transform="translate(261.31,515.90) scale(0.9189,1)" font-size="14.0" fill="#000" stroke="#fff" stroke-width="0.18">1Jan20</text>
<text transform="translate(367.02,515.90) scale(0.9059,1)" font-size="14.0" fill="#000" stroke="#fff" stroke-width="0.18">1Jan21</text>
<text transform="translate(473.61,515.90) scale(0.9168,1)" font-size="14.0" fill="#000" stroke="#fff" stroke-width="0.18">1Jan22</text>
<text transform="translate(577.91,515.90) scale(0.9254,1)" font-size="14.0" fill="#000" stroke="#fff" stroke-width="0.18">1Jan23</text>
<text transform="translate(684.32,515.90) scale(0.9112,1)" font-size="14.0" fill="#000" stroke="#fff" stroke-width="0.18">1Jan24</text>
<text transform="translate(790.21,515.90) scale(0.9211,1)" font-size="14.0" fill="#000" stroke="#fff" stroke-width="0.18">1Jan25</text>
<text transform="translate(53.80,428.90) scale(0.8991,1)" font-size="14.0" fill="#000" stroke="#fff" stroke-width="0.18">First</text>
<text transform="translate(99.15,428.90) scale(0.8675,1)" font-size="14.0" fill="#0000ff" stroke="#fff" stroke-width="0.18">1.6217</text>
<text transform="translate(148.90,428.90) scale(0.9045,1)" font-size="14.0" fill="#000" stroke="#fff" stroke-width="0.18">Last</text>
<text transform="translate(181.47,428.90) scale(0.9004,1)" font-size="14.0" fill="#0000ff" stroke="#fff" stroke-width="0.18">366.1003</text>
<text transform="translate(51.67,444.90) scale(0.9299,1)" font-size="14.0" fill="#000" stroke="#fff" stroke-width="0.18">High</text>
<text transform="translate(87.33,444.90) scale(0.8926,1)" font-size="14.0" fill="#0000ff" stroke="#fff" stroke-width="0.18">19Apr19</text>
<text transform="translate(147.84,444.90) scale(0.9556,1)" font-size="14.0" fill="#000" stroke="#fff" stroke-width="0.18">Low</text>
<text transform="translate(184.43,444.90) scale(0.8944,1)" font-size="14.0" fill="#0000ff" stroke="#fff" stroke-width="0.18">13Apr20</text>
<text transform="translate(84.48,460.90) scale(0.8918,1)" font-size="14.0" fill="#0000ff" stroke="#fff" stroke-width="0.18">388.5588</text>
<text transform="translate(177.55,460.90) scale(0.8948,1)" font-size="14.0" fill="#0000ff" stroke="#fff" stroke-width="0.18">-478.7008</text>
<text transform="translate(45.73,476.90) scale(0.9735,1)" font-size="14.0" fill="#000" stroke="#fff" stroke-width="0.18">Mean</text>
<text transform="translate(94.46,476.90) scale(0.8896,1)" font-size="14.0" fill="#0000ff" stroke="#fff" stroke-width="0.18">-9.3411</text>
<text transform="translate(155.27,476.90) scale(0.8659,1)" font-size="14.0" fill="#000" stroke="#fff" stroke-width="0.18">Std</text>
<text transform="translate(182.24,476.90) scale(0.8807,1)" font-size="14.0" fill="#0000ff" stroke="#fff" stroke-width="0.18">156.4220</text>
<text transform="translate(131.17,550.90) scale(0.9341,1)" font-size="14.0" fill="#0000ff" stroke="#fff" stroke-width="0.18">Rolling</text>
<text transform="translate(180.24,550.90) scale(0.9187,1)" font-size="14.0" fill="#0000ff" stroke="#fff" stroke-width="0.18">75d</text>
<text transform="translate(206.23,550.90) scale(0.9386,1)" font-size="14.0" fill="#0000ff" stroke="#fff" stroke-width="0.18">Change</text>
<text transform="translate(258.80,550.90) scale(1.0000,1)" font-size="14.0" fill="#0000ff" stroke="#fff" stroke-width="0.18">in</text>
<text transform="translate(274.93,550.90) scale(0.9452,1)" font-size="14.0" fill="#0000ff" stroke="#fff" stroke-width="0.18">Global</text>
<text transform="translate(322.34,550.90) scale(0.9137,1)" font-size="14.0" fill="#0000ff" stroke="#fff" stroke-width="0.18">Systematic</text>
<text transform="translate(394.31,550.90) scale(0.8853,1)" font-size="14.0" fill="#0000ff" stroke="#fff" stroke-width="0.18">EQ</text>
<text transform="translate(416.58,550.90) scale(0.9226,1)" font-size="14.0" fill="#0000ff" stroke="#fff" stroke-width="0.18">Positioning</text>
<text transform="translate(495.67,534.90) scale(0.9333,1)" font-size="14.0" fill="#000" stroke="#fff" stroke-width="0.18">High</text>
<text transform="translate(493.27,550.90) scale(0.9051,1)" font-size="14.0" fill="#0000ff" stroke="#fff" stroke-width="0.18">388.6</text>
<text transform="translate(555.53,534.90) scale(0.9667,1)" font-size="14.0" fill="#000" stroke="#fff" stroke-width="0.18">Low</text>
<text transform="translate(553.46,550.90) scale(0.8852,1)" font-size="14.0" fill="#0000ff" stroke="#fff" stroke-width="0.18">-478.7</text>
<text transform="translate(616.07,534.90) scale(0.9217,1)" font-size="14.0" fill="#000" stroke="#fff" stroke-width="0.18">Avg.</text>
<text transform="translate(613.55,550.90) scale(0.9000,1)" font-size="14.0" fill="#0000ff" stroke="#fff" stroke-width="0.18">-9.3</text>
<text transform="translate(675.59,534.90) scale(0.9117,1)" font-size="14.0" fill="#000" stroke="#fff" stroke-width="0.18">Last</text>
<text transform="translate(673.49,550.90) scale(0.8580,1)" font-size="14.0" fill="#0000ff" stroke="#fff" stroke-width="0.18">366.1</text>
<text transform="translate(736.95,534.90) scale(0.8905,1)" font-size="14.0" fill="#000" stroke="#fff" stroke-width="0.18">StdDev</text>
<text transform="translate(733.63,550.90) scale(0.8876,1)" font-size="14.0" fill="#0000ff" stroke="#fff" stroke-width="0.18">156.4</text>
<text transform="translate(886.77,32.90) scale(0.9333,1)" font-size="14.0" fill="#000" stroke="#fff" stroke-width="0.18">400</text>
<text transform="translate(886.77,84.90) scale(0.9333,1)" font-size="14.0" fill="#000" stroke="#fff" stroke-width="0.18">300</text>
<text transform="translate(886.53,136.90) scale(0.9438,1)" font-size="14.0" fill="#000" stroke="#fff" stroke-width="0.18">200</text>
<text transform="translate(886.28,188.90) scale(0.9545,1)" font-size="14.0" fill="#000" stroke="#fff" stroke-width="0.18">100</text>
<text transform="translate(886.82,240.90) scale(0.9630,1)" font-size="14.0" fill="#000" stroke="#fff" stroke-width="0.18">0</text>
<text transform="translate(882.94,292.90) scale(0.9111,1)" font-size="14.0" fill="#000" stroke="#fff" stroke-width="0.18">-100</text>
<text transform="translate(882.94,344.90) scale(0.9111,1)" font-size="14.0" fill="#000" stroke="#fff" stroke-width="0.18">-200</text>
<text transform="translate(882.94,396.90) scale(0.9111,1)" font-size="14.0" fill="#000" stroke="#fff" stroke-width="0.18">-300</text>
<text transform="translate(882.94,448.90) scale(0.9111,1)" font-size="14.0" fill="#000" stroke="#fff" stroke-width="0.18">-400</text>
<text transform="translate(882.94,500.90) scale(0.9111,1)" font-size="14.0" fill="#000" stroke="#fff" stroke-width="0.18">-500</text>
<line x1="110" y1="546" x2="129" y2="546" stroke="#0000ff" stroke-width="2" shape-rendering="crispEdges"/>
</svg></body></html>
